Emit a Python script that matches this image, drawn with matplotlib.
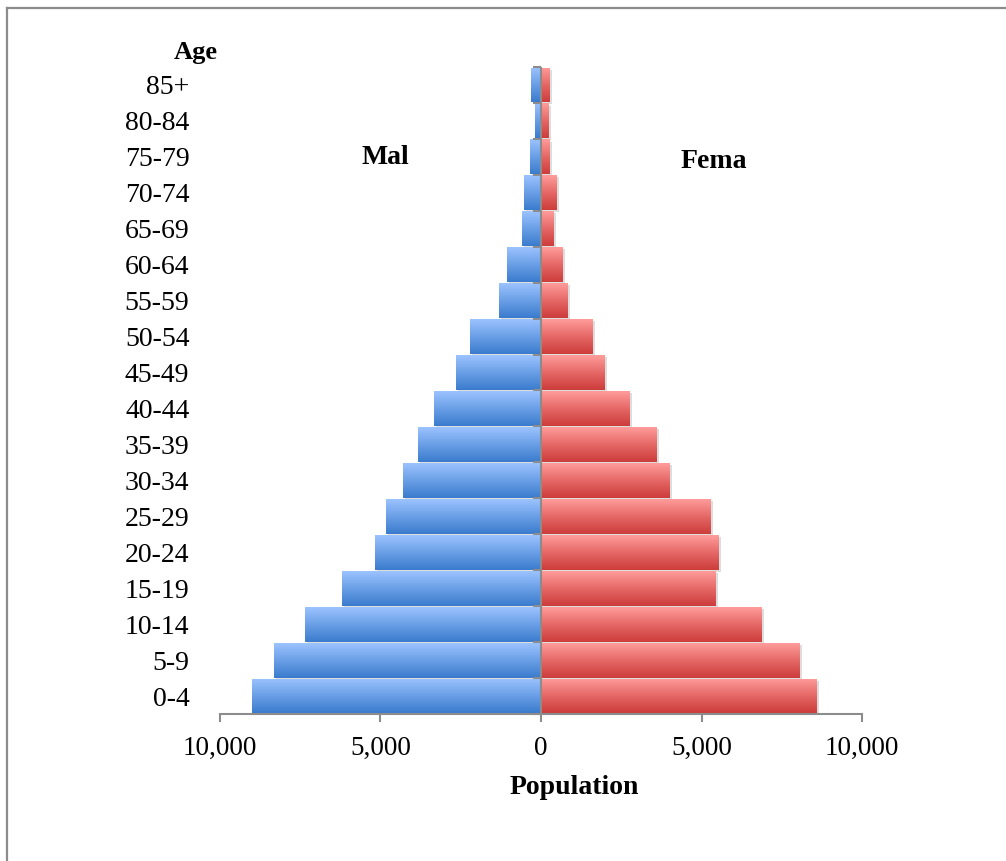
import numpy as np
import matplotlib
matplotlib.use("Agg")
import matplotlib.pyplot as plt
from matplotlib.colors import LinearSegmentedColormap
from matplotlib.lines import Line2D
from matplotlib import patheffects
from matplotlib.markers import TICKLEFT
from matplotlib.ticker import FuncFormatter

plt.rcParams['font.family'] = ['Liberation Serif', 'DejaVu Serif']

age_groups = ["0-4", "5-9", "10-14", "15-19", "20-24", "25-29", "30-34", "35-39",
              "40-44", "45-49", "50-54", "55-59", "60-64", "65-69", "70-74",
              "75-79", "80-84", "85+"]
male = [9000, 8320, 7350, 6200, 5170, 4830, 4300, 3830, 3330, 2650, 2210,
        1310, 1060, 590, 530, 340, 200, 320]
female = [8590, 8060, 6880, 5440, 5540, 5290, 4010, 3610, 2770, 1980, 1610,
          830, 675, 395, 490, 270, 240, 270]
x_ticks = [-10000, -5000, 0, 5000, 10000]

W, H = 1006, 861
GRAY = "#8C8C8C"
fig = plt.figure(figsize=(W / 100, H / 100), dpi=100)
ax = fig.add_axes([220 / W, 1 - 714 / H, 642 / W, (714 - 67) / H])

blue_cmap = LinearSegmentedColormap.from_list("b", ["#3A7BCD", "#6A9FE6", "#9CC3FF"])
red_cmap = LinearSegmentedColormap.from_list("r", ["#CC3C3B", "#E56866", "#FF9D9B"])

y = np.arange(len(age_groups))
shadow = [patheffects.SimplePatchShadow(offset=(1.5, -1.5), shadow_rgbFace="#909090", alpha=0.3),
          patheffects.Normal()]
mbars = ax.barh(y, -np.array(male), height=0.97, color="#6A9FE6", zorder=2)
fbars = ax.barh(y, female, height=0.97, color="#E56866", zorder=2)

grad = np.linspace(0, 1, 256).reshape(-1, 1)
for bars, cmap in ((mbars, blue_cmap), (fbars, red_cmap)):
    for p in bars:
        p.set_path_effects(shadow)
        x0, y0 = p.get_x(), p.get_y()
        w, h = p.get_width(), p.get_height()
        im = ax.imshow(grad, extent=[x0, x0 + w, y0, y0 + h], origin="lower",
                       cmap=cmap, aspect="auto", zorder=3, interpolation="bilinear")
        im.set_clip_path(p)

ax.set_xlim(-10000, 10000)
ax.set_ylim(-0.5, len(age_groups) - 0.5)

# centre axis at zero with ticks at category boundaries
ax.axvline(0, color=GRAY, lw=1.5, zorder=5)
bounds = np.arange(len(age_groups) + 1) - 0.5
ax.plot(np.zeros_like(bounds), bounds, linestyle="none", marker=TICKLEFT,
        markersize=6, markeredgewidth=1.5, color=GRAY, zorder=5, clip_on=False)

for s in ("top", "right", "left"):
    ax.spines[s].set_visible(False)
ax.spines["bottom"].set_color(GRAY)
ax.spines["bottom"].set_linewidth(1.5)
ax.spines["bottom"].set_zorder(6)

ax.set_xticks(x_ticks)
ax.xaxis.set_major_formatter(FuncFormatter(lambda v, _: f"{abs(int(v)):,}"))
ax.tick_params(axis="x", length=6, width=1.5, color=GRAY, pad=10, labelsize=19.5)
ax.set_yticks(y, age_groups)
ax.tick_params(axis="y", length=0, pad=22, labelsize=20)

ax.set_xlabel("Population", fontsize=20, fontweight="bold")
ax.xaxis.set_label_coords((574 - 220) / 642, -(787 - 714) / (714 - 67))
ax.xaxis.label.set_va("center")

fig.text(196 / W, 1 - 52 / H, "Age", fontsize=19, fontweight="bold", ha="center", va="center")
fig.text(385 / W, 1 - 158 / H, "Mal", fontsize=20, fontweight="bold", ha="center", va="center")
fig.text(714 / W, 1 - 162 / H, "Fema", fontsize=20, fontweight="bold", ha="center", va="center")

fig.add_artist(Line2D([7 / W, 1], [1 - 7.5 / H, 1 - 7.5 / H], transform=fig.transFigure,
                      color=GRAY, lw=1.6))
fig.add_artist(Line2D([7 / W, 7 / W], [0, 1 - 7.5 / H], transform=fig.transFigure,
                      color=GRAY, lw=1.6))

fig.savefig("out.png", dpi=100)
